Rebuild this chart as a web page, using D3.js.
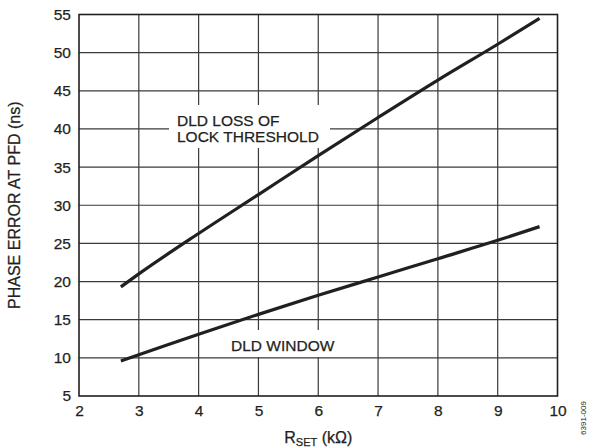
<!DOCTYPE html>
<html>
<head>
<meta charset="utf-8">
<script src="https://cdn.jsdelivr.net/npm/d3@7"></script>
<style>
  html, body { margin: 0; padding: 0; background: #fff; }
  svg { display: block; font-family: "Liberation Sans", Arial, Helvetica, sans-serif; }
</style>
</head>
<body>
<svg id="chart" width="591" height="448"></svg>
<script>
// R_SET (kΩ) sample points and phase error (ns) for each threshold
const rset = [2.7, 3, 4, 5, 6, 7, 8, 9, 9.7];
const lossOfLock = [19.3, 21.0, 26.3, 31.4, 36.5, 41.5, 46.4, 51.1, 54.5];
const dldWindow = [9.6, 10.4, 13.1, 15.7, 18.2, 20.6, 23.0, 25.4, 27.2];
const xTicks = [2, 3, 4, 5, 6, 7, 8, 9, 10];
const yTicks = [5, 10, 15, 20, 25, 30, 35, 40, 45, 50, 55];

const svg = d3.select("#chart");
const m = { left: 79, top: 14.5, right: 557.5, bottom: 396 };

const x = d3.scaleLinear().domain([2, 10]).range([m.left, m.right]);
const y = d3.scaleLinear().domain([5, 55]).range([m.bottom, m.top]);

const ink = "#231f20";
const gridCol = "#3a3a3a";
const fs = 15.5;

// grid
const grid = svg.append("g");
grid.selectAll("line.v").data(xTicks.slice(1, -1)).join("line")
  .attr("x1", d => x(d)).attr("x2", d => x(d))
  .attr("y1", m.top).attr("y2", m.bottom)
  .attr("stroke", gridCol).attr("stroke-width", 1.2);
grid.selectAll("line.h").data(yTicks.slice(1, -1)).join("line")
  .attr("x1", m.left).attr("x2", m.right)
  .attr("y1", d => y(d)).attr("y2", d => y(d))
  .attr("stroke", gridCol).attr("stroke-width", 1.2);

// white backing behind the in-plot labels
svg.append("rect").attr("x", 169).attr("y", 105).attr("width", 161).attr("height", 43).attr("fill", "#fff");
svg.append("rect").attr("x", 225).attr("y", 330).attr("width", 104).attr("height", 27).attr("fill", "#fff");

// frame
svg.append("rect")
  .attr("x", m.left).attr("y", m.top)
  .attr("width", m.right - m.left).attr("height", m.bottom - m.top)
  .attr("fill", "none").attr("stroke", ink).attr("stroke-width", 1.6);

// text styling shared by every label
function styleText(sel, size) {
  sel.attr("font-size", size).attr("fill", ink)
    .attr("stroke", ink).attr("stroke-width", 0.25)
    .attr("font-family", "Liberation Sans, Arial, sans-serif");
}

// axes (labels only)
const xAxis = d3.axisBottom(x).tickValues(xTicks).tickSize(0).tickPadding(9);
svg.append("g").attr("transform", `translate(0,${m.bottom})`).call(xAxis)
  .call(g => g.select(".domain").remove())
  .selectAll("text").call(styleText, fs);

const yAxis = d3.axisLeft(y).tickValues(yTicks).tickSize(0).tickPadding(8);
svg.append("g").attr("transform", `translate(${m.left},0)`).call(yAxis)
  .call(g => g.select(".domain").remove())
  .selectAll("text").call(styleText, fs);

// curves
const line = d3.line().x((d, i) => x(rset[i])).y(d => y(d)).curve(d3.curveMonotoneX);
[lossOfLock, dldWindow].forEach(s => {
  svg.append("path").datum(s).attr("d", line)
    .attr("fill", "none").attr("stroke", ink).attr("stroke-width", 3.2)
    .attr("stroke-linecap", "butt");
});

// curve labels
const lab = svg.append("text").call(styleText, fs);
lab.append("tspan").attr("x", 177).attr("y", 125.5).text("DLD LOSS OF");
lab.append("tspan").attr("x", 177).attr("y", 141.5).text("LOCK THRESHOLD");
svg.append("text").attr("x", 231).attr("y", 350.5).call(styleText, fs).text("DLD WINDOW");

// axis titles
const xt = svg.append("text").attr("x", x(6)).attr("y", 443)
  .attr("text-anchor", "middle").call(styleText, 16);
xt.append("tspan").text("R");
xt.append("tspan").attr("font-size", 11).attr("dy", 3).text("SET");
xt.append("tspan").attr("dy", -3).text(" (kΩ)");

svg.append("text")
  .attr("transform", `translate(20,${(m.top + m.bottom) / 2}) rotate(-90)`)
  .attr("text-anchor", "middle").call(styleText, 16)
  .text("PHASE ERROR AT PFD (ns)");

svg.append("text")
  .attr("transform", "translate(586,418) rotate(-90)")
  .attr("text-anchor", "middle").attr("font-size", 8).attr("fill", ink)
  .text("6391-009");
</script>
</body>
</html>
